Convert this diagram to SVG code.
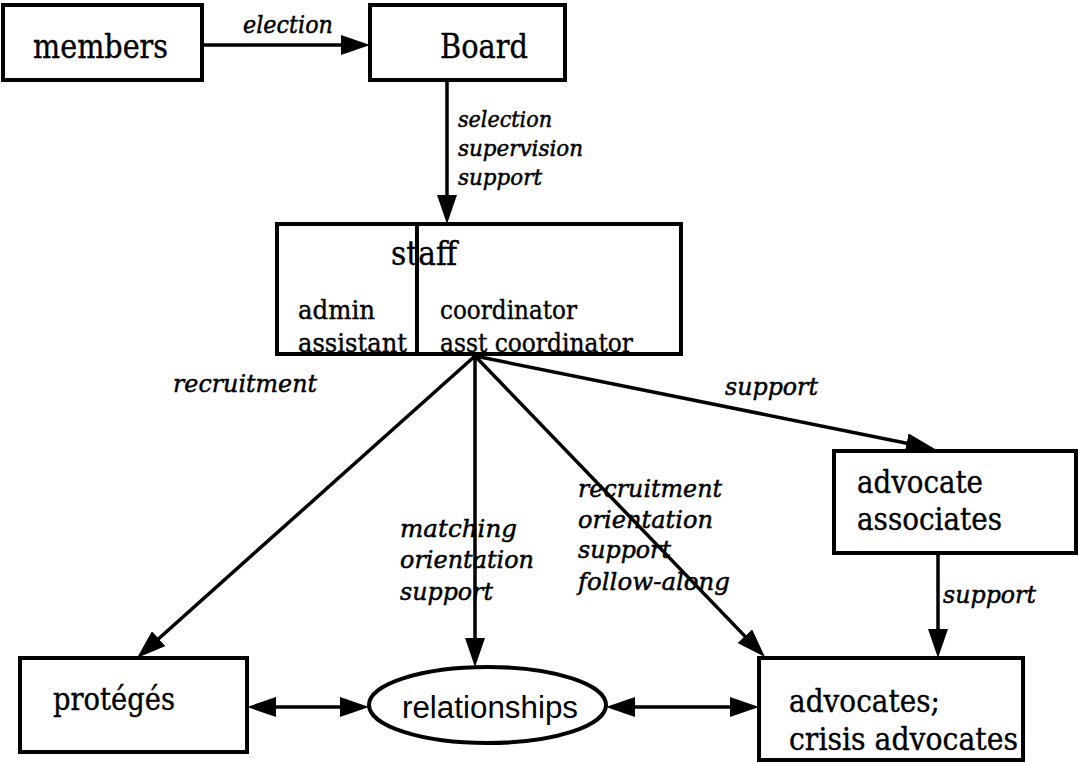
<svg xmlns="http://www.w3.org/2000/svg" width="1078" height="762" viewBox="0 0 1078 762">
<style>
.box{fill:#fff;stroke:#000;stroke-width:4}
.lbl{font-family:"DejaVu Serif","Liberation Serif",serif;fill:#000;stroke:#000;stroke-width:0.4}
.it{font-family:"DejaVu Serif","Liberation Serif",serif;font-style:italic;font-size:25px;fill:#000;stroke:#000;stroke-width:0.5}
.sm{font-size:22px}
.con{fill:none;stroke:#000;stroke-width:3.5}
</style>
<defs>
<marker id="ah" viewBox="0 0 29 20" markerWidth="29" markerHeight="20" refX="9" refY="10" orient="auto-start-reverse" markerUnits="userSpaceOnUse">
<path d="M0,0 L29,10 L0,20 z" fill="#000"/>
</marker>
</defs>
<rect width="1078" height="762" fill="#fff"/>
<g id="connectors">
<path class="con" d="M202,45 H350" marker-end="url(#ah)"/>
<path class="con" d="M447,80 V204" marker-end="url(#ah)"/>
<path class="con" d="M475,356 L151.9,644.7" marker-end="url(#ah)"/>
<path class="con" d="M475,356 V647" marker-end="url(#ah)"/>
<path class="con" d="M475,356 L751.1,642.6" marker-end="url(#ah)"/>
<path class="con" d="M475,356 L915.4,445" marker-end="url(#ah)"/>
<path class="con" d="M938,553 V638" marker-end="url(#ah)"/>
<path class="con" d="M267,707 H349" marker-start="url(#ah)" marker-end="url(#ah)"/>
<path class="con" d="M626,707 H739" marker-start="url(#ah)" marker-end="url(#ah)"/>
<text class="it" x="243" y="33" font-size="24" textLength="90" lengthAdjust="spacingAndGlyphs">election</text>
<text class="it sm" x="458" y="127" textLength="94" lengthAdjust="spacingAndGlyphs">selection</text>
<text class="it sm" x="458" y="156" textLength="125" lengthAdjust="spacingAndGlyphs">supervision</text>
<text class="it sm" x="458" y="185" textLength="84" lengthAdjust="spacingAndGlyphs">support</text>
<text class="it" x="173" y="392" textLength="144" lengthAdjust="spacingAndGlyphs">recruitment</text>
<text class="it" x="400" y="537" textLength="117" lengthAdjust="spacingAndGlyphs">matching</text>
<text class="it" x="400" y="568" textLength="134" lengthAdjust="spacingAndGlyphs">orientation</text>
<text class="it" x="400" y="600" textLength="93" lengthAdjust="spacingAndGlyphs">support</text>
<text class="it" x="578" y="497" textLength="144" lengthAdjust="spacingAndGlyphs">recruitment</text>
<text class="it" x="578" y="528" textLength="135" lengthAdjust="spacingAndGlyphs">orientation</text>
<text class="it" x="578" y="558" textLength="93" lengthAdjust="spacingAndGlyphs">support</text>
<text class="it" x="578" y="590" textLength="152" lengthAdjust="spacingAndGlyphs">follow-along</text>
<text class="it" x="725" y="395" textLength="93" lengthAdjust="spacingAndGlyphs">support</text>
<text class="it" x="943" y="603" textLength="93" lengthAdjust="spacingAndGlyphs">support</text>
</g>
<g id="members">
<rect class="box" x="3" y="5" width="199" height="75"/>
<text class="lbl" x="33" y="58" font-size="33" textLength="135" lengthAdjust="spacingAndGlyphs">members</text>
</g>
<g id="board">
<rect class="box" x="370" y="5" width="195" height="75"/>
<text class="lbl" x="440" y="58" font-size="33" textLength="88" lengthAdjust="spacingAndGlyphs">Board</text>
</g>
<g id="staff">
<rect class="box" x="277" y="224" width="404" height="130"/>
<line x1="417" y1="224" x2="417" y2="354" stroke="#000" stroke-width="4"/>
<text class="lbl" x="391" y="265" font-size="33" textLength="66" lengthAdjust="spacingAndGlyphs">staff</text>
<text class="lbl" x="298" y="319" font-size="26" textLength="77" lengthAdjust="spacingAndGlyphs">admin</text>
<text class="lbl" x="298" y="352" font-size="26" textLength="109" lengthAdjust="spacingAndGlyphs">assistant</text>
<text class="lbl" x="440" y="319" font-size="26" textLength="137" lengthAdjust="spacingAndGlyphs">coordinator</text>
<text class="lbl" x="440" y="352" font-size="26" textLength="193" lengthAdjust="spacingAndGlyphs">asst coordinator</text>
</g>
<g id="advocate-associates">
<rect class="box" x="834" y="451" width="242" height="102"/>
<text class="lbl" x="857" y="493" font-size="32" textLength="126" lengthAdjust="spacingAndGlyphs">advocate</text>
<text class="lbl" x="857" y="530" font-size="32" textLength="145" lengthAdjust="spacingAndGlyphs">associates</text>
</g>
<g id="proteges">
<rect class="box" x="20" y="658" width="227" height="94"/>
<text class="lbl" x="53" y="710" font-size="31" textLength="122" lengthAdjust="spacingAndGlyphs">protégés</text>
</g>
<g id="relationships">
<ellipse cx="487.5" cy="705" rx="118.5" ry="38" fill="#fff" stroke="#000" stroke-width="4"/>
<text x="402" y="718" font-family="Liberation Sans, Arial, sans-serif" font-size="31" fill="#000" textLength="176" lengthAdjust="spacingAndGlyphs">relationships</text>
</g>
<g id="advocates">
<rect class="box" x="759" y="658" width="264" height="102"/>
<text class="lbl" x="789" y="712" font-size="31" textLength="151" lengthAdjust="spacingAndGlyphs">advocates;</text>
<text class="lbl" x="789" y="750" font-size="31" textLength="229" lengthAdjust="spacingAndGlyphs">crisis advocates</text>
</g>
</svg>
